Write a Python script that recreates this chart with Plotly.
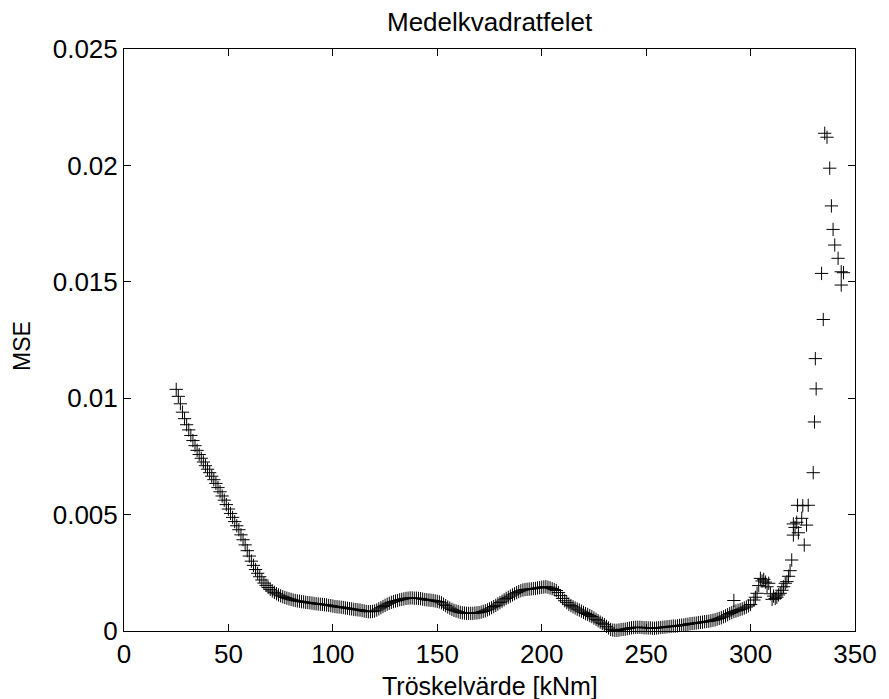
import plotly.graph_objects as go

# Threshold values [kNm] and the mean squared error at each threshold
threshold = list(range(25, 301)) + [
    292.0,
    301.6, 302.3, 303.1, 303.9, 304.7, 305.5, 306.3, 307.1, 307.9, 308.7,
    309.5, 310.3, 311.0, 311.8, 312.6, 313.4, 314.2, 315.0, 315.8, 316.6,
    317.4, 318.2, 318.9, 319.7, 320.5, 321.3, 322.1, 322.9, 322.5, 324.5,
    325.0, 325.7, 326.8, 327.6, 320.5,
    330.0, 330.6, 331.4, 331.0, 334.8, 334.0, 335.5, 336.6, 337.9, 338.7,
    339.5, 340.3, 341.9, 343.4, 344.5, 343.4,
]

mse = [
    # 25 - 49
    0.01038, 0.01008, 0.00976, 0.00940, 0.00912, 0.00886, 0.00864, 0.00840,
    0.00818, 0.00796, 0.00776, 0.00758, 0.00742, 0.00726, 0.00710, 0.00695,
    0.00680, 0.00665, 0.00650, 0.00634, 0.00616, 0.00598, 0.00580, 0.00562,
    0.00543,
    # 50 - 74
    0.00524, 0.00505, 0.00488, 0.00470, 0.00452, 0.00435, 0.00413, 0.00392,
    0.00370, 0.00345, 0.00322, 0.00300, 0.00282, 0.00264, 0.00248, 0.00233,
    0.00219, 0.00206, 0.00196, 0.00187, 0.00179, 0.00172, 0.00166, 0.00160,
    0.00155,
    # 75 - 99
    0.00151, 0.00147, 0.00144, 0.00141, 0.00138, 0.00136, 0.00133, 0.00131,
    0.00129, 0.00128, 0.00126, 0.00125, 0.00123, 0.00122, 0.00121, 0.00120,
    0.00118, 0.00117, 0.00116, 0.00115, 0.00114, 0.00113, 0.00112, 0.00110,
    0.00109,
    # 100 - 124
    0.00107, 0.00105, 0.00104, 0.00103, 0.00102, 0.00101, 0.00099, 0.00098,
    0.00096, 0.00095, 0.00093, 0.00092, 0.00091, 0.00090, 0.00088, 0.00086,
    0.00084, 0.00083, 0.00083, 0.00084, 0.00086, 0.00090, 0.00095, 0.00100,
    0.00105,
    # 125 - 149
    0.00110, 0.00115, 0.00119, 0.00123, 0.00126, 0.00129, 0.00131, 0.00134,
    0.00136, 0.00138, 0.00140, 0.00141, 0.00142, 0.00142, 0.00141, 0.00141,
    0.00140, 0.00139, 0.00137, 0.00135, 0.00134, 0.00133, 0.00132, 0.00131,
    0.00129,
    # 150 - 174
    0.00127, 0.00125, 0.00121, 0.00115, 0.00109, 0.00103, 0.00098, 0.00093,
    0.00089, 0.00086, 0.00083, 0.00080, 0.00078, 0.00077, 0.00076, 0.00076,
    0.00076, 0.00076, 0.00077, 0.00078, 0.00079, 0.00081, 0.00084, 0.00087,
    0.00091,
    # 175 - 199
    0.00095, 0.00100, 0.00105, 0.00110, 0.00116, 0.00122, 0.00128, 0.00134,
    0.00140, 0.00145, 0.00150, 0.00155, 0.00160, 0.00165, 0.00169, 0.00173,
    0.00176, 0.00178, 0.00179, 0.00180, 0.00181, 0.00182, 0.00183, 0.00185,
    0.00186,
    # 200 - 224
    0.00188, 0.00189, 0.00190, 0.00188, 0.00185, 0.00182, 0.00178, 0.00174,
    0.00165, 0.00152, 0.00140, 0.00130, 0.00122, 0.00115, 0.00109, 0.00104,
    0.00099, 0.00094, 0.00090, 0.00085, 0.00080, 0.00075, 0.00071, 0.00066,
    0.00062,
    # 225 - 249
    0.00056, 0.00050, 0.00044, 0.00038, 0.00033, 0.00027, 0.00020, 0.00013,
    0.00007, 0.00004, 0.00003, 0.00003, 0.00004, 0.00006, 0.00007, 0.00008,
    0.00010, 0.00012, 0.00014, 0.00015, 0.00016, 0.00016, 0.00016, 0.00015,
    0.00014,
    # 250 - 274
    0.00014, 0.00013, 0.00013, 0.00012, 0.00012, 0.00013, 0.00014, 0.00015,
    0.00016, 0.00017, 0.00018, 0.00019, 0.00020, 0.00021, 0.00021, 0.00022,
    0.00024, 0.00025, 0.00026, 0.00028, 0.00029, 0.00031, 0.00032, 0.00033,
    0.00034,
    # 275 - 300
    0.00036, 0.00037, 0.00038, 0.00040, 0.00041, 0.00042, 0.00044, 0.00046,
    0.00048, 0.00051, 0.00054, 0.00057, 0.00061, 0.00065, 0.00070, 0.00075,
    0.00079, 0.00083, 0.00086, 0.00089, 0.00092, 0.00095, 0.00099, 0.00103,
    0.00108, 0.00114,
    # scattered tail
    0.00131,
    0.00133, 0.00145, 0.00162, 0.00195, 0.00226, 0.00215, 0.00222, 0.00210,
    0.00190, 0.00205, 0.00160, 0.00136, 0.00150, 0.00140, 0.00145, 0.00155,
    0.00162, 0.00175, 0.00190, 0.00205, 0.00212, 0.00235, 0.00259, 0.00305,
    0.00412, 0.00445, 0.00467, 0.00422, 0.00540, 0.00484, 0.00538, 0.00369,
    0.00455, 0.00540, 0.00460,
    0.00680, 0.00898, 0.01040, 0.01170, 0.01338, 0.01536, 0.02138, 0.02121,
    0.01988, 0.01826, 0.01725, 0.01658, 0.01601, 0.01543, 0.01539, 0.01486,
]

x_ticks = [0, 50, 100, 150, 200, 250, 300, 350]
y_ticks = [0, 0.005, 0.01, 0.015, 0.02, 0.025]
y_tick_labels = ["0", "0.005", "0.01", "0.015", "0.02", "0.025"]

FONT = "Liberation Sans, Arial, sans-serif"
TICK_FS = 26

fig = go.Figure(
    go.Scatter(
        x=threshold,
        y=mse,
        mode="markers",
        marker=dict(symbol="cross-thin", size=9.5, color="black",
                    line=dict(color="black", width=1)),
        cliponaxis=False,
        showlegend=False,
    )
)

axis_common = dict(
    showline=True, linecolor="black", linewidth=1, mirror="ticks",
    ticks="inside", ticklen=7, tickcolor="black", tickwidth=1,
    showgrid=False, zeroline=False,
    tickfont=dict(family=FONT, size=TICK_FS, color="black"),
)

fig.update_xaxes(range=[0, 350], tickvals=x_ticks, **axis_common)
fig.update_yaxes(range=[0, 0.025], tickvals=y_ticks, ticktext=y_tick_labels,
                 **axis_common)

fig.update_layout(
    width=889, height=699,
    margin=dict(l=124, r=27, t=49, b=68),
    paper_bgcolor="white", plot_bgcolor="white",
    font=dict(family=FONT, size=TICK_FS, color="black"),
    annotations=[
        dict(text="Medelkvadratfelet", xref="paper", yref="paper",
             x=0.5, y=1, yshift=27, xanchor="center", yanchor="middle",
             showarrow=False, font=dict(family=FONT, size=26)),
        dict(text="Tröskelvärde [kNm]", xref="paper", yref="paper",
             x=0.5, y=0, yshift=-55, xanchor="center", yanchor="middle",
             showarrow=False, font=dict(family=FONT, size=25)),
        dict(text="MSE", xref="paper", yref="paper",
             x=0, xshift=-102, y=0.5, yshift=-6, xanchor="center",
             yanchor="middle", textangle=-90, showarrow=False,
             font=dict(family=FONT, size=23)),
    ],
)

fig.write_html("out.html")
